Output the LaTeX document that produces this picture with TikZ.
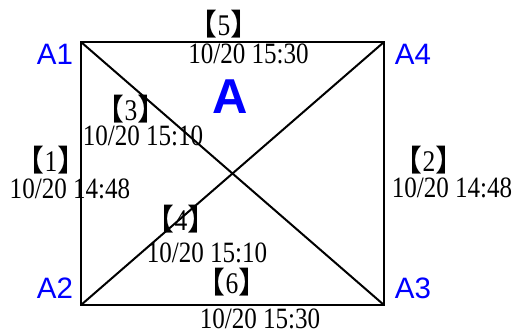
\documentclass[tikz,border=0pt]{standalone}
\usepackage{fontspec}
\setmainfont{Liberation Serif}
\newfontfamily\condfont[FakeStretch=0.85]{Liberation Serif}
\newfontfamily\cjkfont{Noto Sans CJK TC}
\newfontfamily\labfont{Liberation Sans}
\definecolor{labblue}{RGB}{0,0,255}
\begin{document}
\begin{tikzpicture}[x=1pt,y=-1pt,
  edge/.style={line width=2pt, line cap=butt},
  corner/.style={labblue, inner sep=0pt, anchor=base, font=\labfont\fontsize{29.5}{29.5}\selectfont},
  bigA/.style={labblue, inner sep=0pt, anchor=base, font=\labfont\bfseries\fontsize{49}{49}\selectfont},
  datelab/.style={inner sep=0pt, anchor=base, font=\condfont\fontsize{29.5}{29.5}\selectfont},
  numlab/.style={inner sep=0pt, anchor=base, font=\condfont\fontsize{30}{30}\selectfont}]
\useasboundingbox (0,0) rectangle (518,332);
\coordinate (c1) at (81,42);
\coordinate (c4) at (384,42);
\coordinate (c3) at (384,305);
\coordinate (c2) at (81,305);
\draw[edge] (c1) -- (c4) -- (c3) -- (c2) -- cycle;
\draw[edge] (c1) -- (c3);
\draw[edge] (c2) -- (c4);
% corner labels
\node[corner] (a1) at (55,64) {A1};
\node[corner] (a4) at (413,64) {A4};
\node[corner] (a2) at (55,298) {A2};
\node[corner] (a3) at (413,298) {A3};
\node[bigA] (bA) at (230.5,113) {A};
% bracket numbers
\newcommand{\bnum}[1]{{\cjkfont\fontsize{30}{30}\selectfont 【}#1{\cjkfont\fontsize{30}{30}\selectfont 】}}
\node[numlab] (n5) at (224,35) {\bnum{5}};
\node[datelab] (d5) at (248.5,63) {10/20 15:30};
\node[numlab] (n3) at (131,120) {\bnum{3}};
\node[datelab] (d3) at (143,145) {10/20 15:10};
\node[numlab] (n1) at (51,171) {\bnum{1}};
\node[datelab] (d1) at (70,198) {10/20 14:48};
\node[numlab] (n2) at (429,171) {\bnum{2}};
\node[datelab] (d2) at (452,197) {10/20 14:48};
\node[numlab] (n4) at (181,230) {\bnum{4}};
\node[datelab] (d4) at (207,262) {10/20 15:10};
\node[numlab] (n6) at (232,293) {\bnum{6}};
\node[datelab] (d6) at (260,328) {10/20 15:30};
\end{tikzpicture}
\end{document}
